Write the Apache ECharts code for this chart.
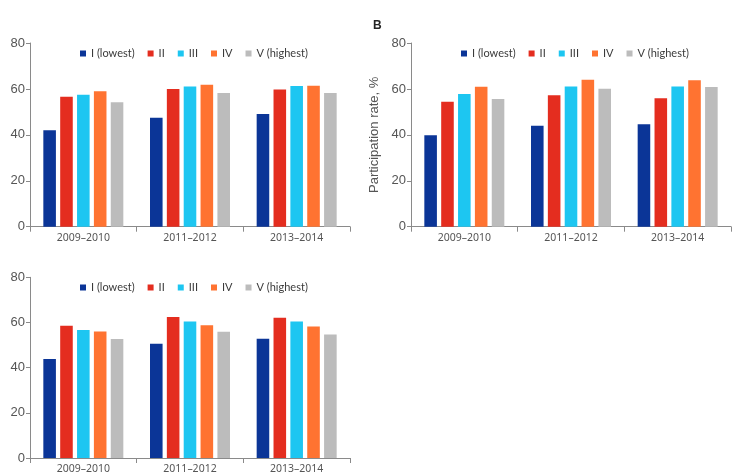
<!DOCTYPE html>
<html>
<head>
<meta charset="utf-8">
<script src="https://cdn.jsdelivr.net/npm/echarts@6/dist/echarts.min.js"></script>
<style>
html,body{margin:0;padding:0;background:#fff;}
#c{width:732px;height:475px;}
</style>
</head>
<body>
<div id="c"></div>
<script>
const categories = ['2009–2010', '2011–2012', '2013–2014'];
const quintiles = ['I (lowest)', 'II', 'III', 'IV', 'V (highest)'];
const colors = ['#0b3597', '#e42d1f', '#1dc6f1', '#ff7331', '#bcbcbc'];
const yTicks = [0, 20, 40, 60, 80];

// Panel A (top-left): values per quintile across periods
const panelA = [
  [42.0, 47.5, 49.1],
  [56.6, 60.0, 59.7],
  [57.5, 61.1, 61.3],
  [59.0, 61.8, 61.4],
  [54.2, 58.2, 58.2]
];
// Panel B (top-right)
const panelB = [
  [39.8, 44.0, 44.6],
  [54.4, 57.2, 55.9],
  [57.8, 61.1, 61.1],
  [61.0, 64.0, 63.8],
  [55.6, 60.1, 60.8]
];
// Panel C (bottom-left)
const panelC = [
  [43.8, 50.6, 52.8],
  [58.5, 62.4, 62.1],
  [56.7, 60.4, 60.4],
  [56.0, 58.8, 58.2],
  [52.7, 55.9, 54.7]
];

const panels = [panelA, panelB, panelC];
const grids = [
  {left: 30, top: 43, width: 320, height: 183.7},
  {left: 411, top: 43, width: 320, height: 183.7},
  {left: 30, top: 277.3, width: 320, height: 183.3}
];
const legendPos = [
  {left: 80, top: 48},
  {left: 461, top: 48},
  {left: 80, top: 282}
];

const axisColor = '#8a8a8a';
const xAxes = grids.map((g, i) => ({
  type: 'category', gridIndex: i, data: categories,
  axisLine: {lineStyle: {color: axisColor, width: 1}},
  axisTick: {show: true, length: 5, lineStyle: {color: axisColor}},
  axisLabel: {color: '#555', fontSize: 10.5, fontFamily: 'Noto Sans', margin: 6}
}));
const yAxes = grids.map((g, i) => ({
  type: 'value', gridIndex: i, min: yTicks[0], max: yTicks[yTicks.length - 1], interval: 20,
  name: i === 1 ? 'Participation rate, %' : '',
  nameLocation: 'middle', nameGap: 30,
  nameTextStyle: {color: '#555', fontSize: 13, fontFamily: 'Liberation Sans'},
  axisLine: {show: true, lineStyle: {color: axisColor, width: 1}},
  axisTick: {show: true, length: 4, lineStyle: {color: axisColor}},
  splitLine: {show: false},
  axisLabel: {color: '#555', fontSize: 13, fontFamily: 'Liberation Sans', margin: 5}
}));
const legends = legendPos.map(p => ({
  left: p.left, top: p.top, data: quintiles, icon: 'rect',
  itemWidth: 6, itemHeight: 6, itemGap: 13, padding: 0,
  textStyle: {color: '#3a3a3a', fontSize: 11, fontFamily: 'Lato'},
  selectedMode: false
}));
const series = [];
panels.forEach((panel, pi) => {
  panel.forEach((vals, qi) => {
    series.push({
      type: 'bar', name: quintiles[qi], xAxisIndex: pi, yAxisIndex: pi,
      data: vals, itemStyle: {color: colors[qi]},
      barCategoryGap: '25%', barGap: '34%', silent: true, animation: false
    });
  });
});

const chart = echarts.init(document.getElementById('c'), null, {renderer: 'canvas'});
chart.setOption({
  animation: false,
  color: colors,
  title: [{text: 'B', left: 368, top: 15, textStyle: {fontSize: 12, fontWeight: 'bold', color: '#222', fontFamily: 'Liberation Sans'}}],
  grid: grids,
  xAxis: xAxes,
  yAxis: yAxes,
  legend: legends,
  series: series
});
</script>
</body>
</html>
